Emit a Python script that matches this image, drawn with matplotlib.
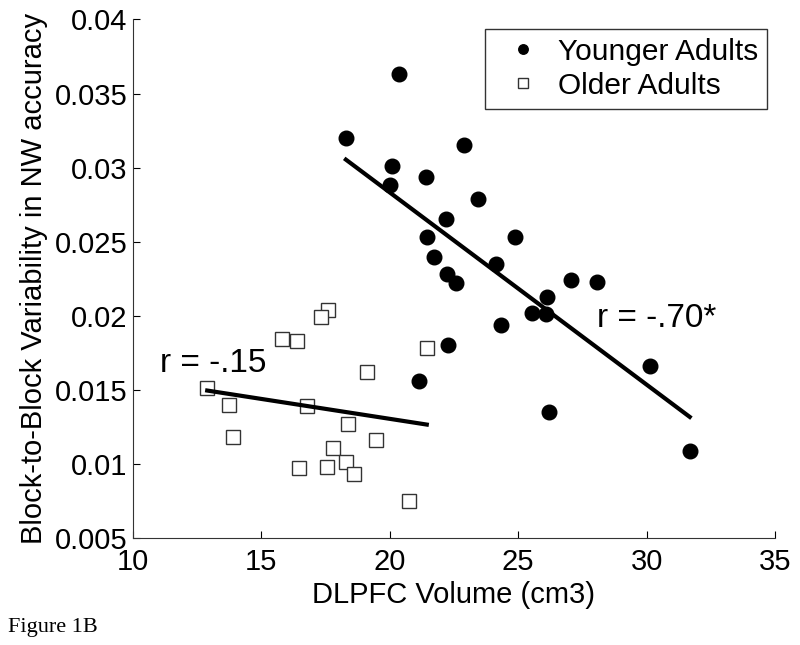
import numpy as np
import matplotlib
matplotlib.use('Agg')
import matplotlib.pyplot as plt

plt.rcParams['font.family'] = ['Liberation Sans', 'DejaVu Sans']

# younger adults: DLPFC volume (cm3) and variability
young_vol = [20.35, 18.29, 22.89, 20.09, 20.01, 21.40, 23.45, 22.19, 21.46, 21.71,
             22.21, 22.58, 24.89, 24.12, 27.06, 28.06, 26.12, 25.52, 26.08, 24.33,
             22.25, 21.12, 30.13, 26.19, 31.68]
young_var = [0.0363, 0.0320, 0.0315, 0.0301, 0.0288, 0.0294, 0.0279, 0.0265, 0.0253, 0.0240,
             0.0228, 0.0222, 0.0253, 0.0235, 0.0224, 0.0223, 0.0213, 0.0202, 0.0201, 0.0194,
             0.0180, 0.0156, 0.0166, 0.0135, 0.0109]

# older adults
old_vol = [17.58, 17.31, 15.82, 16.40, 21.44, 19.11, 12.89, 13.74, 16.78, 18.37,
           13.91, 19.45, 17.78, 18.28, 16.48, 17.55, 18.61, 20.75]
old_var = [0.0204, 0.0199, 0.0184, 0.0183, 0.0178, 0.0162, 0.0151, 0.0140, 0.0139, 0.0127,
           0.0118, 0.0116, 0.0111, 0.0101, 0.0097, 0.0098, 0.0093, 0.0075]

r_young = 'r = -.70*'
r_old = 'r = -.15'

fig = plt.figure(figsize=(8, 6.45), dpi=100)
ax = fig.add_axes([0.16625, 0.1659, 0.8025, 0.8039])

ax.plot(young_vol, young_var, 'o', color='black', markersize=10.5, label='Younger Adults')
ax.plot(old_vol, old_var, 's', markerfacecolor='white', markeredgecolor='#333333',
        markeredgewidth=1.0, markersize=10, label='Older Adults')

# regression lines over each group's range
for xs, ys in [(young_vol, young_var), (old_vol, old_var)]:
    xs = np.array(xs)
    k, b = np.polyfit(xs, ys, 1)
    xx = np.array([xs.min(), xs.max()])
    ax.plot(xx, k * xx + b, color='black', linewidth=3)

ax.text(30.4, 0.0198, r_young, fontsize=24, ha='center', va='center')
ax.text(13.12, 0.0168, r_old, fontsize=24, ha='center', va='center')

ax.set_xlim(10, 35)
ax.set_ylim(0.005, 0.04)
ax.set_xticks([10, 15, 20, 25, 30, 35])
ax.set_yticks([0.005, 0.01, 0.015, 0.02, 0.025, 0.03, 0.035, 0.04])
ax.set_yticklabels(['0.005', '0.01', '0.015', '0.02', '0.025', '0.03', '0.035', '0.04'])
ax.tick_params(direction='in', length=5, labelsize=21, pad=4)
ax.tick_params(axis='x', pad=7)
for s in ['top', 'right']:
    ax.spines[s].set_visible(False)
for s in ['left', 'bottom']:
    ax.spines[s].set_color('#333333')

ax.set_xlabel('DLPFC Volume (cm3)', fontsize=21, labelpad=4)
ax.set_ylabel('Block-to-Block Variability in NW accuracy', fontsize=21, labelpad=5)

leg = ax.legend(loc='upper right', fontsize=21.5, markerscale=0.65, handlelength=2.0,
                handletextpad=0.15, borderpad=0.3, labelspacing=0.2, fancybox=False,
                edgecolor='#333333', framealpha=1, borderaxespad=0,
                bbox_to_anchor=(0.9875, 0.982))
leg.get_frame().set_linewidth(1.0)

fig.text(0.01, 0.02, 'Figure 1B', fontsize=16, family='Liberation Serif')

fig.savefig('out.png', dpi=100)
